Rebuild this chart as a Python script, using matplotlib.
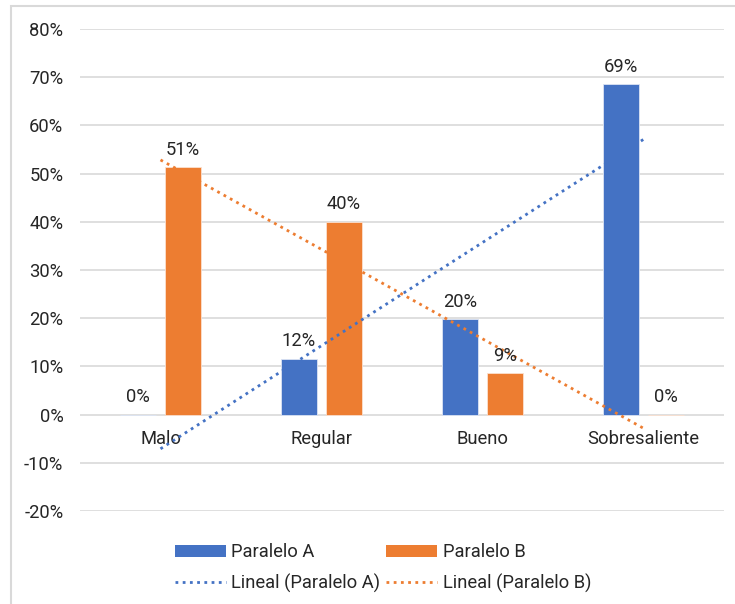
import matplotlib

matplotlib.use("Agg")

import matplotlib.pyplot as plt
import numpy as np
from matplotlib.lines import Line2D
from matplotlib.patches import Patch, Rectangle
from matplotlib.ticker import FuncFormatter

plt.rcParams["font.family"] = ["Roboto", "DejaVu Sans"]

categories = ["Malo", "Regular", "Bueno", "Sobresaliente"]
paralelo_a = [0.0, 0.116, 0.198, 0.686]
paralelo_b = [0.514, 0.40, 0.086, 0.0]
y_ticks = [-0.2, -0.1, 0.0, 0.1, 0.2, 0.3, 0.4, 0.5, 0.6, 0.7, 0.8]

BLUE = "#4472C4"
ORANGE = "#ED7D31"
GRID = "#D9D9D9"
TEXT = "#262626"
FS = 13.2


def pct(v, _pos=None):
    return f"{v * 100:.0f}%"


def main():
    fig = plt.figure(figsize=(7.35, 6.04), dpi=100)
    ax = fig.add_axes([80 / 735, 1 - 511 / 604, 644 / 735, 482 / 604])

    x = np.arange(1, len(categories) + 1)
    width = 0.224
    offset = 0.14

    bars_a = ax.bar(x - offset, paralelo_a, width, color=BLUE,
                    edgecolor="#DCE4F4", linewidth=0.6, zorder=2)
    bars_b = ax.bar(x + offset, paralelo_b, width, color=ORANGE,
                    edgecolor="#FBE0CF", linewidth=0.6, zorder=2)

    # linear trend lines over the category positions
    for values, color in ((paralelo_a, BLUE), (paralelo_b, ORANGE)):
        slope, intercept = np.polyfit(x, values, 1)
        ax.plot(x[[0, -1]], slope * x[[0, -1]] + intercept, color=color,
                linestyle=(0, (1, 1.6)), linewidth=2, zorder=3)

    for bars, values in ((bars_a, paralelo_a), (bars_b, paralelo_b)):
        for bar, v in zip(bars, values):
            ax.annotate(pct(v), (bar.get_x() + bar.get_width() / 2, v),
                        xytext=(0, 6), textcoords="offset points",
                        ha="center", va="bottom", fontsize=FS,
                        color=TEXT, zorder=4)

    ax.set_xlim(0.5, len(categories) + 0.5)
    ax.set_ylim(-0.2, 0.8)
    ax.set_yticks(y_ticks)
    ax.yaxis.set_major_formatter(FuncFormatter(pct))
    ax.grid(axis="y", color=GRID, linewidth=1.2, zorder=0)
    ax.set_axisbelow(True)

    # category labels sit right under the zero line
    ax.set_xticks(x)
    ax.set_xticklabels(categories)
    ax.spines["bottom"].set_position(("data", 0))
    for side in ("top", "right", "left", "bottom"):
        ax.spines[side].set_visible(False)
    ax.tick_params(axis="x", length=0, pad=11, labelsize=FS, labelcolor=TEXT)
    ax.tick_params(axis="y", length=0, pad=12, labelsize=FS, labelcolor=TEXT)

    handles = [
        Patch(facecolor=BLUE),
        Line2D([], [], color=BLUE, linestyle=(0, (1, 1.6)), linewidth=2),
        Patch(facecolor=ORANGE),
        Line2D([], [], color=ORANGE, linestyle=(0, (1, 1.6)), linewidth=2),
    ]
    labels = ["Paralelo A", "Lineal (Paralelo A)",
              "Paralelo B", "Lineal (Paralelo B)"]
    fig.legend(handles, labels, ncol=2, loc="center left",
               bbox_to_anchor=(158 / 735, 1 - 568 / 604), frameon=False,
               fontsize=FS, handlelength=2.8, handleheight=0.6,
               handletextpad=0.3, columnspacing=0.3, labelspacing=0.68,
               labelcolor=TEXT)

    fig.patches.append(Rectangle((11 / 735, -0.01), 1.0, 1 - 6 / 604 + 0.01,
                                 transform=fig.transFigure, fill=False,
                                 edgecolor=GRID, linewidth=1.5))

    fig.savefig("out.png", dpi=100)
    plt.close(fig)


if __name__ == "__main__":
    main()
